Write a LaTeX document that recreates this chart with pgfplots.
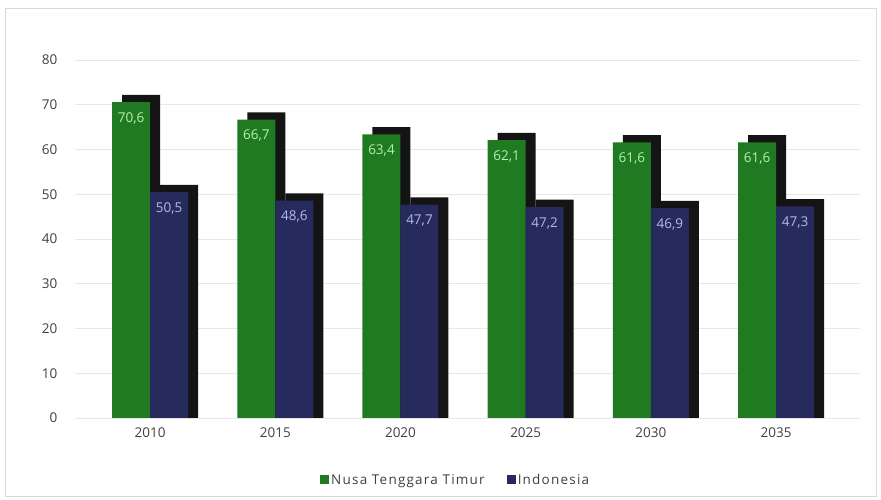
\documentclass[border=0pt]{standalone}
\usepackage{pgfplots}
\pgfplotsset{compat=1.18}
\usepackage{pgfplotstable}
\usepackage{fontspec}
\setmainfont{Open Sans}
\newfontfamily\legfont[LetterSpace=9]{Open Sans}
\definecolor{ntt}{HTML}{1F7A22}
\definecolor{ina}{HTML}{262A5C}
\definecolor{shade}{HTML}{141414}
\definecolor{nttlab}{HTML}{B8F0B4}
\definecolor{inalab}{HTML}{B4B8EC}
\definecolor{txt}{HTML}{404040}
\definecolor{gridc}{HTML}{E8E8E8}

\pgfplotstableread{
x y lab
0 70.6 70,6
1 66.7 66,7
2 63.4 63,4
3 62.1 62,1
4 61.6 61,6
5 61.6 61,6
}\ntt

\pgfplotstableread{
x y lab
0 50.5 50,5
1 48.6 48,6
2 47.7 47,7
3 47.2 47,2
4 46.9 46,9
5 47.3 47,3
}\ina

\begin{document}
\begin{tikzpicture}
\begin{axis}[
  scale only axis,
  width=785pt, height=358pt,
  xmin=-0.6, xmax=5.67,
  ymin=0, ymax=80,
  ybar,
  bar width=38pt,
  xtick=data,
  xticklabels={2010,2015,2020,2025,2030,2035},
  ytick={0,10,...,80},
  /pgf/number format/assume math mode=true,
  ymajorgrids,
  grid style={gridc, line width=0.8pt},
  axis line style={draw=none},
  major tick length=0pt,
  tick label style={font=\fontsize{13.5}{15}\selectfont, text=txt},
  yticklabel style={xshift=-14pt},
  xticklabel style={yshift=-6pt},
  legend style={at={(0.485,-0.173)}, anchor=center, draw=none, fill=none,
    legend columns=2, font=\legfont\fontsize{13.5}{15}\selectfont, text=txt,
    /tikz/every even column/.append style={column sep=20pt}},
  legend image code/.code={\fill[#1] (0pt,-4.5pt) rectangle (9pt,4.5pt);},
  nodes near coords,
  point meta=explicit symbolic,
  clip=false,
]
\addplot[fill=shade, draw=none, bar shift=-9pt, forget plot, nodes near coords={}]
  table[x=x, y expr=\thisrow{y}+1.6] {\ntt};
\addplot[fill=ntt, draw=none, bar shift=-19pt,
  nodes near coords style={anchor=north, yshift=-7pt, text=nttlab, font=\fontsize{13.5}{15}\selectfont}]
  table[x=x, y=y, meta=lab] {\ntt};
\addlegendentry{Nusa Tenggara Timur}
\addplot[fill=shade, draw=none, bar shift=29pt, forget plot, nodes near coords={}]
  table[x=x, y expr=\thisrow{y}+1.6] {\ina};
\addplot[fill=ina, draw=none, bar shift=19pt,
  nodes near coords style={anchor=north, yshift=-7pt, text=inalab, font=\fontsize{13.5}{15}\selectfont}]
  table[x=x, y=y, meta=lab] {\ina};
\addlegendentry{Indonesia}
\draw[gray!30, line width=0.8pt] (rel axis cs:-0.0892,-0.218) rectangle (rel axis cs:1.0204,1.145);
\useasboundingbox (rel axis cs:-0.0955,-0.229) rectangle (rel axis cs:1.0268,1.1676);
\end{axis}
\end{tikzpicture}
\end{document}
